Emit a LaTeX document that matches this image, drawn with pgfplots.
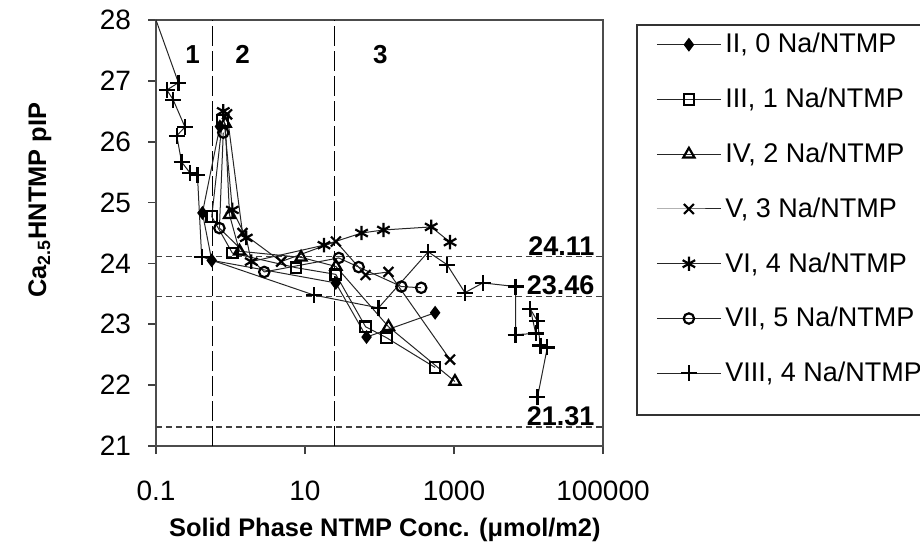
\documentclass[border=0pt]{standalone}
\usepackage{fontspec}
\setmainfont{Liberation Sans}
\usepackage{pgfplots}
\pgfplotsset{compat=1.18}

\pgfplotsset{
  ser/.style={black!85, line width=0.5pt, mark options={solid, line width=1.1pt, black}},
}

\begin{document}
\begin{tikzpicture}
\begin{axis}[
  scale only axis, width=223.5pt, height=213pt,
  at={(0,0)}, anchor=south west,
  xmode=log, log basis x=10,
  xmin=0.1, xmax=100000, ymin=21, ymax=28,
  xtick={0.1,10,1000,100000}, xticklabels={0.1,10,1000,100000},
  xminorticks=false,
  ytick={21,22,...,28},
  tick pos=left, tick align=outside, major tick length=4pt,
  tick style={black!75, line width=0.8pt},
  axis line style={black!70, line width=0.9pt},
  /pgf/number format/assume math mode=true,
  tick label style={font=\fontsize{14}{16}\selectfont},
  yticklabel style={xshift=-5pt},
  xticklabel style={yshift=-10pt},
  xlabel={\bfseries Solid Phase NTMP Conc. (μmol/m2)},
  ylabel={\bfseries Ca\textsubscript{2.5}HNTMP pIP},
  label style={font=\fontsize{12.7}{15}\selectfont},
  xlabel style={at={(axis description cs:0.512,-0.197)}, anchor=center},
  ylabel style={at={(axis description cs:-0.26,0.577)}, anchor=center, rotate=0},
  clip=false,
  legend style={at={(1,1)}, anchor=north west, xshift=26.5pt, yshift=-4.5pt,
                draw=none, fill=none, font=\fontsize{13.5}{15}\selectfont,
                row sep=12.1pt, inner sep=0pt, cells={anchor=west}},
  legend image code/.code={\draw[mark repeat=2,mark phase=2,#1]
     plot coordinates {(0pt,0pt) (16pt,0pt) (32pt,0pt)};},
]
% reference lines
\addplot[forget plot, black, line width=0.6pt, dash pattern=on 10pt off 2.5pt] coordinates {(0.575,21) (0.575,28)};
\addplot[forget plot, black, line width=0.6pt, dash pattern=on 10pt off 2.5pt] coordinates {(25,21) (25,28)};
\addplot[forget plot, black!75, line width=0.7pt, dash pattern=on 3pt off 2pt] coordinates {(0.1,24.11) (100000,24.11)};
\addplot[forget plot, black!75, line width=0.7pt, dash pattern=on 3pt off 2pt] coordinates {(0.1,23.46) (100000,23.46)};
\addplot[forget plot, black!75, line width=0.7pt, dash pattern=on 3pt off 2pt] coordinates {(0.1,21.31) (100000,21.31)};
\addplot[forget plot, ser, no marks] coordinates {(0.1,28) (0.2,26.97)};

% II
\addplot[ser, mark=diamond*, mark size=2.6pt] coordinates {
 (0.72,26.25) (0.42,24.83) (0.56,24.05) (25.9,23.68) (67,22.79) (558,23.19)};
\addlegendentry{II, 0 Na/NTMP}
% III
\addplot[ser, mark=square, mark size=2.6pt] coordinates {
 (0.78,26.35) (0.56,24.77) (1.06,24.17) (7.6,23.93) (25.9,23.82) (65,22.96) (124,22.78) (558,22.29)};
\addlegendentry{III, 1 Na/NTMP}
% IV
\addplot[ser, mark=triangle, mark size=3.2pt] coordinates {
 (0.85,26.3) (0.97,24.8) (1.32,24.2) (8.85,24.1) (26,23.95) (132,22.96) (1030,22.06)};
\addlegendentry{IV, 2 Na/NTMP}
% V
\addplot[ser, mark=x, mark size=3.5pt] coordinates {
 (0.9,26.45) (1.45,24.5) (4.79,24.03) (26,24.36) (65,23.81) (132,23.86) (885,22.42)};
\addlegendentry{V, 3 Na/NTMP}
% VI
\addplot[ser, mark=asterisk, mark size=3.6pt] coordinates {
 (0.8,26.5) (1.06,24.88) (1.63,24.42) (1.9,24.03) (18,24.3) (57.5,24.5) (113,24.55) (494,24.6) (885,24.35)};
\addlegendentry{VI, 4 Na/NTMP}
% VII
\addplot[ser, mark=o, mark size=2.6pt] coordinates {
 (0.8,26.15) (0.71,24.58) (2.84,23.86) (28.4,24.09) (52.5,23.94) (197,23.62) (363,23.6)};
\addlegendentry{VII, 5 Na/NTMP}
% VIII
\addplot[ser, mark=+, mark size=4pt] coordinates {
 (0.2,26.97) (0.14,26.85) (0.17,26.69) (0.245,26.24) (0.19,26.1) (0.22,25.67)
 (0.285,25.49) (0.36,25.45) (0.41,24.11) (13.2,23.48) (97,23.27) (450,24.19)
 (807,23.98) (1400,23.52) (2440,23.68) (6700,23.62) (6700,22.83) (12500,22.85)
 (10600,23.25) (13200,23.05) (14450,22.65) (17900,22.62) (13200,21.8)};
\addlegendentry{VIII, 4 Na/NTMP}

\node[font=\bfseries\fontsize{13}{15}\selectfont] at (axis cs:0.31,27.43) {1};
\node[font=\bfseries\fontsize{13}{15}\selectfont] at (axis cs:1.45,27.43) {2};
\node[font=\bfseries\fontsize{13}{15}\selectfont] at (axis cs:103,27.43) {3};
\node[font=\bfseries\fontsize{13.5}{15}\selectfont, anchor=south east, inner sep=0.5pt] at (axis cs:80000,24.11) {24.11};
\node[font=\bfseries\fontsize{13.5}{15}\selectfont, anchor=south east, inner sep=0.5pt] at (axis cs:80000,23.46) {23.46};
\node[font=\bfseries\fontsize{13.5}{15}\selectfont, anchor=south east, inner sep=0.5pt] at (axis cs:80000,21.31) {21.31};
\end{axis}
\draw[black!80, line width=0.8pt] (240.5pt,15.5pt) rectangle (382.5pt,210.5pt);
\pgfresetboundingbox
\useasboundingbox (-78pt,-50pt) rectangle (382pt,223pt);
\end{tikzpicture}
\end{document}
